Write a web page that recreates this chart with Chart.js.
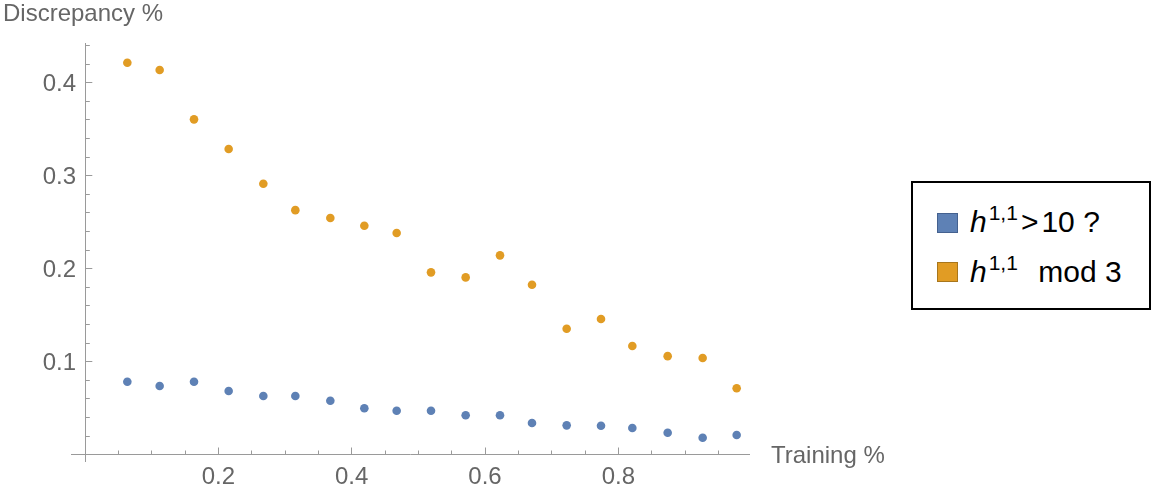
<!DOCTYPE html>
<html>
<head>
<meta charset="utf-8">
<script src="https://cdn.jsdelivr.net/npm/chart.js@4/dist/chart.umd.min.js"></script>
<style>
  html, body { margin: 0; padding: 0; background: #fff; }
  #wrap { position: relative; width: 1153px; height: 489px; }
  #c { position: absolute; left: 0; top: 0; }
  #legend {
    position: absolute; left: 911px; top: 181px; width: 236px; height: 125px;
    border: 2px solid #000; background: #fff;
    font-family: "Liberation Sans", Arial, sans-serif; font-size: 30px; color: #000;
  }
  .sw { position: absolute; left: 24px; width: 19px; height: 18px; border: 1px solid; }
  .txt { position: absolute; left: 57px; white-space: nowrap; line-height: 30px; }
  .txt i { font-style: italic; }
  .txt sup { font-size: 21px; vertical-align: 0; position: relative; top: -12px; margin-left: 2px; }
  .op { margin: 0 3px 0 3px; }
  .sp { margin: 0 12px 0 0; }
</style>
</head>
<body>
<div id="wrap">
  <canvas id="c" width="1153" height="489"></canvas>
  <div id="legend">
    <div class="sw" style="top:30px;background:#5E81B5;border-color:#44618f;"></div>
    <div class="txt" style="top:24px;"><i>h</i><sup>1,1</sup><span class="op">&gt;</span>10 ?</div>
    <div class="sw" style="top:79px;background:#E19C24;border-color:#a8761c;"></div>
    <div class="txt" style="top:74px;"><i>h</i><sup>1,1</sup><span class="sp"> </span>mod 3</div>
  </div>
</div>
<script>
// ---- data ----
const trainingFraction = [0.0635, 0.112, 0.1635, 0.2155, 0.2675, 0.3155, 0.368, 0.419, 0.4675, 0.519,
                          0.571, 0.6225, 0.6705, 0.7225, 0.774, 0.821, 0.874, 0.9265, 0.9775];
const discrepancyH11Gt10 = [0.0785, 0.0739, 0.0785, 0.0685, 0.0631, 0.0631, 0.0581, 0.0499, 0.0473, 0.0473,
                            0.0424, 0.0424, 0.0341, 0.0316, 0.0312, 0.0287, 0.0237, 0.0183, 0.0212];
const discrepancyH11Mod3 = [0.4215, 0.4137, 0.3606, 0.3287, 0.2914, 0.263, 0.2545, 0.2462, 0.2384, 0.1961,
                            0.1907, 0.2144, 0.1828, 0.1355, 0.146, 0.1169, 0.106, 0.104, 0.0714];
const seriesNames = ["h^{1,1}>10 ?", "h^{1,1} mod 3"];
const xMajorTicks = [0.2, 0.4, 0.6, 0.8];
const xMinorTicks = [0.05, 0.1, 0.15, 0.25, 0.3, 0.35, 0.45, 0.5, 0.55, 0.65, 0.7, 0.75, 0.85, 0.9, 0.95];
const yMajorTicks = [0.1, 0.2, 0.3, 0.4];
const yMinorTicks = [0.02, 0.04, 0.06, 0.08, 0.12, 0.14, 0.16, 0.18, 0.22, 0.24, 0.26, 0.28,
                     0.32, 0.34, 0.36, 0.38, 0.42, 0.44];
const xTickLabels = ["0.2", "0.4", "0.6", "0.8"];
const yTickLabels = ["0.1", "0.2", "0.3", "0.4"];
const xAxisTitle = "Training %";
const yAxisTitle = "Discrepancy %";

// ---- styling ----
const BLUE = "#5E81B5", ORANGE = "#E19C24";
const AXIS = "#9a9a9a", LABEL = "#666666";
const FONT = '"Liberation Sans", Arial, sans-serif';

const toPts = (ys) => trainingFraction.map((x, i) => ({ x: x, y: ys[i] }));

const setTicks = (vals) => (scale) => { scale.ticks = vals.map(v => ({ value: v })); };

const textPlugin = {
  id: 'mmaText',
  afterDraw(chart) {
    const ctx = chart.ctx;
    const xs = chart.scales.x, ys = chart.scales.y;
    const x0 = xs.getPixelForValue(0);
    ctx.save();
    ctx.fillStyle = LABEL;
    ctx.font = '24px ' + FONT;
    ctx.textAlign = 'right';
    ctx.textBaseline = 'middle';
    yMajorTicks.forEach((v, i) => {
      ctx.fillText(yTickLabels[i], x0 - 9, ys.getPixelForValue(v) + 1.5);
    });
    ctx.textAlign = 'left';
    ctx.textBaseline = 'alphabetic';
    ctx.fillText(yAxisTitle, 3, 21);
    ctx.fillText(xAxisTitle, 771, 463);
    ctx.restore();
  }
};

new Chart(document.getElementById('c'), {
  type: 'scatter',
  data: {
    datasets: [
      { label: seriesNames[0], data: toPts(discrepancyH11Gt10), backgroundColor: BLUE, borderColor: BLUE,
        borderWidth: 0, pointRadius: 4.3, pointHoverRadius: 4.3 },
      { label: seriesNames[1], data: toPts(discrepancyH11Mod3), backgroundColor: ORANGE, borderColor: ORANGE,
        borderWidth: 0, pointRadius: 4.3, pointHoverRadius: 4.3 }
    ]
  },
  options: {
    responsive: false,
    animation: false,
    events: [],
    layout: { padding: { left: 71, right: 404, top: 43.3, bottom: 27.3 } },
    plugins: { legend: { display: false }, tooltip: { enabled: false } },
    scales: {
      x: {
        type: 'linear', axis: 'x', min: -0.021, max: 0.996, position: { y: 0 },
        afterBuildTicks: setTicks(xMajorTicks),
        grid: { display: true, drawOnChartArea: false, drawTicks: true, tickLength: -7.5, color: AXIS, lineWidth: 1 },
        border: { display: true, color: AXIS, width: 1 },
        ticks: { font: { family: FONT, size: 24 }, color: LABEL, padding: 15.5, maxRotation: 0, autoSkip: false,
                 callback: (v, i) => xTickLabels[i] }
      },
      xm: {
        type: 'linear', axis: 'x', min: -0.021, max: 0.996, position: { y: 0 },
        afterBuildTicks: setTicks(xMinorTicks),
        grid: { display: true, drawOnChartArea: false, drawTicks: true, tickLength: -4.5, color: AXIS, lineWidth: 1 },
        border: { display: false },
        ticks: { display: false }
      },
      y: {
        type: 'linear', axis: 'y', min: -0.0075, max: 0.4424, position: { x: 0 },
        afterBuildTicks: setTicks(yMajorTicks),
        grid: { display: true, drawOnChartArea: false, drawTicks: true, tickLength: -7.3, color: AXIS, lineWidth: 1 },
        border: { display: true, color: AXIS, width: 1 },
        ticks: { display: false }
      },
      ym: {
        type: 'linear', axis: 'y', min: -0.0075, max: 0.4424, position: { x: 0 },
        afterBuildTicks: setTicks(yMinorTicks),
        grid: { display: true, drawOnChartArea: false, drawTicks: true, tickLength: -4.8, color: AXIS, lineWidth: 1 },
        border: { display: false },
        ticks: { display: false }
      }
    }
  },
  plugins: [textPlugin]
});
</script>
</body>
</html>
